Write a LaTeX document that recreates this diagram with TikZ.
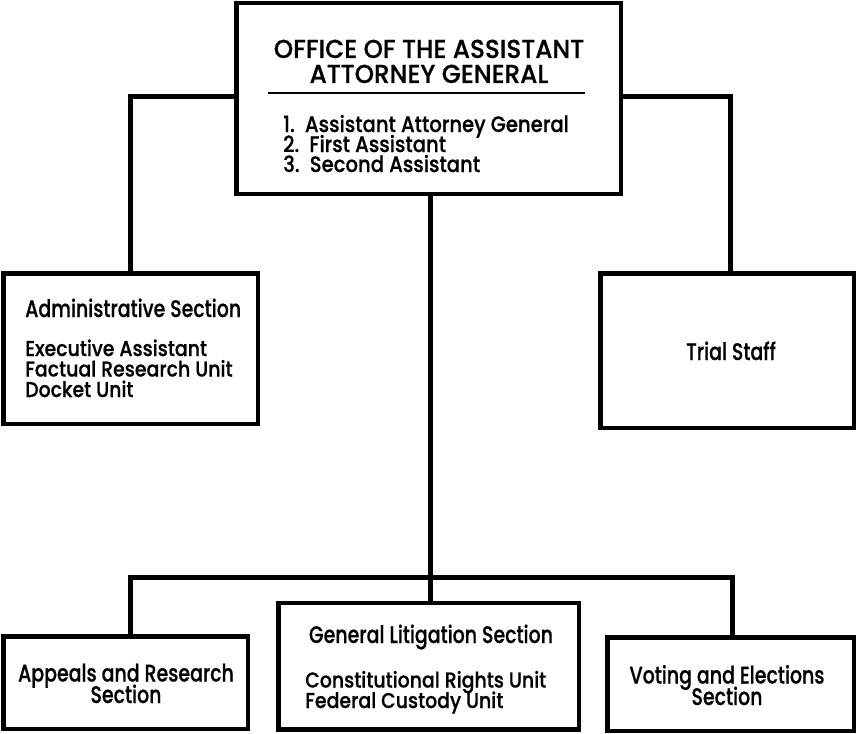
\documentclass[tikz,border=0pt]{standalone}
\usepackage{fontspec}
\setmainfont{Poppins}[UprightFont=* Medium]
\newfontfamily\hfont{Poppins}[UprightFont=* Medium, FakeStretch=0.79, FakeBold=0.6]
\newfontfamily\lfont{Poppins}[UprightFont=* Medium, FakeStretch=0.88, FakeBold=0.6]
\newfontfamily\tfont{Poppins}[UprightFont=* Medium, FakeStretch=0.95, FakeBold=0.6]
\lineskiplimit=-50pt\relax
\begin{document}
\begin{tikzpicture}[x=1pt,y=-1pt,
  box/.style={draw, fill=white, line width=3pt, inner sep=0pt},
  conn/.style={line width=5pt},
  hd/.style={inner sep=0pt, font=\hfont\fontsize{24}{21.5}\selectfont},
  txt/.style={inner sep=0pt, font=\lfont\fontsize{21.5}{20.5}\selectfont},
  lst/.style={inner sep=0pt, font=\lfont\fontsize{22.3}{20}\selectfont},
  head/.style={inner sep=0pt, font=\tfont\fontsize{26}{25}\selectfont}]
\useasboundingbox (0,0) rectangle (856,733);
\coordinate (bar) at (430,577);
% boxes (positions)
\path
  node[box, minimum width=383pt, minimum height=189pt] (top) at (428.5,98.5) {}
  node[box, minimum width=253pt, minimum height=149pt] (admin) at (130.5,348.5) {}
  node[box, minimum width=252pt, minimum height=153pt] (trial) at (727,350.5) {}
  node[box, minimum width=243pt, minimum height=91pt] (appeals) at (125.5,682.5) {}
  node[box, minimum width=299pt, minimum height=125pt] (gl) at (428.5,666) {}
  node[box, minimum width=245pt, minimum height=92pt] (voting) at (730.5,684) {};
% connectors
\draw[conn] ([yshift=1.5pt]top.west) -| (admin.north);
\draw[conn] ([yshift=1.5pt]top.east) -| ([xshift=3pt]trial.north);
\draw[conn] ([xshift=1.5pt]top.south) -- ([xshift=1.5pt]gl.north);
\draw[conn] ([xshift=5pt]appeals.north) |- (bar) -| ([xshift=1.5pt]voting.north);
% redraw box outlines over connector ends
\foreach \n in {top,admin,trial,appeals,gl,voting}
  \draw[line width=3pt] (\n.north west) rectangle (\n.south east);
% top box text (anchor base = baseline of last line)
\node[head, anchor=base, align=center] (h1) at (429,83) {OFFICE OF THE ASSISTANT\\ATTORNEY GENERAL};
\draw[line width=1.6pt] (268,93) -- (585,93);
\node[lst, anchor=base west, align=left] (l1) at (283,172)
  {1.\ \ Assistant Attorney General\\2.\ \ First Assistant\\3.\ \ Second Assistant};
% admin
\node[hd, anchor=base west] (a0) at (25,317) {Administrative Section};
\node[txt, anchor=base west, align=left] (a1) at (25,397)
  {Executive Assistant\\Factual Research Unit\\Docket Unit};
% trial
\node[hd, anchor=base] (t0) at (731,360) {Trial Staff};
% appeals
\node[hd, anchor=base, align=center] (p1) at (126,703) {Appeals and Research\\Section};
% general litigation
\node[hd, anchor=base] (g0) at (431,643) {General Litigation Section};
\node[txt, anchor=base west, align=left] (g1) at (305,708)
  {Constitutional Rights Unit\\Federal Custody Unit};
% voting
\node[hd, anchor=base, align=center] (v1) at (727,705) {Voting and Elections\\Section};
\end{tikzpicture}
\end{document}
